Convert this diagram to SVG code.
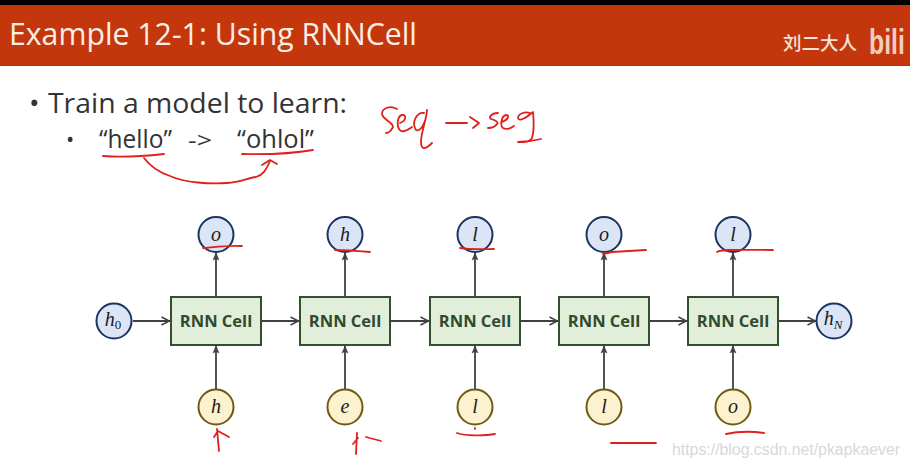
<svg xmlns="http://www.w3.org/2000/svg" width="910" height="467" viewBox="0 0 910 467">
<defs>
<marker id="arr" viewBox="0 0 10 10" refX="9.5" refY="5" markerWidth="10" markerHeight="10" markerUnits="userSpaceOnUse" orient="auto"><path d="M1 1L9 5L1 9" fill="none" stroke="#404040" stroke-width="1.5"/></marker>
<marker id="arrv" viewBox="0 0 8 8" refX="7.500" refY="4" markerWidth="8" markerHeight="8" markerUnits="userSpaceOnUse" orient="auto"><path d="M0.5 1L7.500 4L0.5 7L2 4Z" fill="#404040" stroke="#404040" stroke-width="0.5"/></marker>
</defs>
<style>
.cell{fill:#e0eeda;stroke:#324f2e;stroke-width:2}
.celltxt{font:700 16.500px "Open Sans","Noto Sans",sans-serif;fill:#2f4a2c;text-anchor:middle}
.blue{fill:#dbe5f5;stroke:#1c3462;stroke-width:2}
.yel{fill:#fdf2cf;stroke:#6f5a14;stroke-width:2}
.math{font:italic 20px "Liberation Serif",serif;fill:#1a1a1a;text-anchor:middle}
.sub{font:italic 13px "Liberation Serif",serif;fill:#1a1a1a}
.conn{stroke:#404040;stroke-width:1.8;fill:none;marker-end:url(#arr)}
.connv{stroke:#404040;stroke-width:1.8;fill:none;marker-end:url(#arrv)}
.ink{stroke:#e0201c;stroke-width:1.8;fill:none;stroke-linecap:round;stroke-linejoin:round}
.body{font-family:"Open Sans","Noto Sans",sans-serif;fill:#333}
</style>
<rect width="910" height="467" fill="#fff"/>
<g id="header">
<rect width="910" height="5" fill="#000"/>
<rect y="5" width="910" height="60" fill="#c4370c"/>
<rect y="65" width="910" height="1" fill="#a8300c"/>
<text x="9" y="45" font-family="Open Sans,Noto Sans,sans-serif" font-size="31" fill="#fbeee6" textLength="408" lengthAdjust="spacingAndGlyphs">Example 12-1: Using RNNCell</text>
<text x="783" y="50" font-family="Noto Sans CJK SC,sans-serif" font-size="18.500" font-weight="500" fill="#f5e2d8">刘二大人</text>
<text transform="translate(869 54) scale(0.8 1.15)" font-family="Liberation Sans,sans-serif" font-size="31" font-weight="700" fill="#f0cdbf">bili</text>
</g>
<g id="bullets" class="body">
<text x="29" y="113" font-size="28">•</text>
<text x="48" y="113" font-size="28" textLength="299" lengthAdjust="spacingAndGlyphs">Train a model to learn:</text>
<text x="66" y="147" font-size="22">•</text>
<text x="99" y="148" font-size="25.500" textLength="73" lengthAdjust="spacingAndGlyphs">“hello”</text>
<text x="188" y="148" font-size="22" textLength="24" lengthAdjust="spacingAndGlyphs">-&gt;</text>
<text x="237" y="148" font-size="25.500" textLength="77" lengthAdjust="spacingAndGlyphs">“ohlol”</text>
</g>
<g id="connectors">
<path class="conn" d="M133 321H170"/>
<path class="conn" d="M262 321H299"/>
<path class="conn" d="M391 321H429"/>
<path class="conn" d="M521 321H558"/>
<path class="conn" d="M650 321H687"/>
<path class="conn" d="M779 321H816"/>
<path class="connv" d="M216 296V253"/>
<path class="connv" d="M345 296V253"/>
<path class="connv" d="M475 296V253"/>
<path class="connv" d="M604 296V253"/>
<path class="connv" d="M733 296V253"/>
<path class="connv" d="M216 389V346"/>
<path class="connv" d="M345 389V346"/>
<path class="connv" d="M475 389V346"/>
<path class="connv" d="M604 389V346"/>
<path class="connv" d="M733 389V346"/>
</g>
<g id="cell1"><rect class="cell" x="171" y="297" width="90" height="48"/><text class="celltxt" x="216" y="327">RNN Cell</text></g>
<g id="cell2"><rect class="cell" x="300" y="297" width="90" height="48"/><text class="celltxt" x="345" y="327">RNN Cell</text></g>
<g id="cell3"><rect class="cell" x="430" y="297" width="90" height="48"/><text class="celltxt" x="475" y="327">RNN Cell</text></g>
<g id="cell4"><rect class="cell" x="559" y="297" width="90" height="48"/><text class="celltxt" x="604" y="327">RNN Cell</text></g>
<g id="cell5"><rect class="cell" x="688" y="297" width="90" height="48"/><text class="celltxt" x="733" y="327">RNN Cell</text></g>
<g id="h0"><circle class="blue" cx="114" cy="321" r="17.5"/><text class="math" x="113" y="326">h<tspan class="sub" dy="3" style="font-style:normal">0</tspan></text></g>
<g id="hN"><circle class="blue" cx="834" cy="321" r="17.5"/><text class="math" x="833" y="325">h<tspan class="sub" dy="4">N</tspan></text></g>
<g id="out1"><circle class="blue" cx="216" cy="234.500" r="17.5"/><text class="math" x="216" y="241">o</text></g>
<g id="out2"><circle class="blue" cx="345" cy="234.500" r="17.5"/><text class="math" x="345" y="241">h</text></g>
<g id="out3"><circle class="blue" cx="475" cy="234.500" r="17.5"/><text class="math" x="475" y="241">l</text></g>
<g id="out4"><circle class="blue" cx="604" cy="234.500" r="17.5"/><text class="math" x="604" y="241">o</text></g>
<g id="out5"><circle class="blue" cx="733" cy="234.500" r="17.5"/><text class="math" x="733" y="241">l</text></g>
<g id="in1"><circle class="yel" cx="216" cy="407" r="17.5"/><text class="math" x="216" y="413">h</text></g>
<g id="in2"><circle class="yel" cx="345" cy="407" r="17.5"/><text class="math" x="345" y="413">e</text></g>
<g id="in3"><circle class="yel" cx="475" cy="407" r="17.5"/><text class="math" x="475" y="413">l</text></g>
<g id="in4"><circle class="yel" cx="604" cy="407" r="17.5"/><text class="math" x="604" y="413">l</text></g>
<g id="in5"><circle class="yel" cx="733" cy="407" r="17.5"/><text class="math" x="733" y="413">o</text></g>
<g id="annotations" class="ink">
<path d="M103 156Q127 158 164 154"/>
<path d="M242 154Q285 155 313 150"/>
<path d="M144 158C150 166 158 172 170 176C185 183 210 184 227 183C240 182 248 178 256 177C263 175 266 170 270 161"/>
<path d="M262 165L270 160L277 164"/>
<path d="M397 109C390 105 382 108 382 114C383 120 393 122 393 127C391 131 388 133 386 133"/>
<path d="M400 123C406 121 407 114 402 115C397 116 396 128 401 131C404 132 408 130 412 127"/>
<path d="M424 113C417 112 411 122 416 130C420 132 426 124 427 110C426 122 421 132 421 142C421 150 425 150 432 143"/>
<path d="M446 123L467 123M470 117L479 123L473 128"/>
<path d="M498 113C492 113 488 117 491 119C495 120 499 122 497 124C495 127 491 128 488 128"/>
<path d="M502 122C508 120 510 115 506 115C501 116 500 126 503 128C506 130 511 128 514 126"/>
<path d="M530 113C525 111 518 114 518 118C519 122 526 118 533 112C534 122 534 132 532 138C530 142 526 142 518 142C525 142 533 141 541 139"/>
<path d="M203 248C215 247 230 245 242 246"/>
<path d="M335 250C345 250 358 251 370 252"/>
<path d="M460 248C472 250 485 249 494 249"/>
<path d="M603 254L612 252L646 250"/>
<path d="M717 252C722 249 740 250 773 250"/>
<path d="M217 429L219 451M214 437L218 431L229 437"/>
<path d="M357 433L356 454M353 444L358 438M366 437L381 441"/>
<path d="M457 433C465 436 485 436 495 434M475 428V429"/>
<path d="M611 443L656 443"/>
<path d="M726 434C735 432 750 431 764 433"/>
</g>
<text id="watermark" x="672" y="455" font-family="Liberation Sans,sans-serif" font-size="15.800" fill="#d8d8d8" textLength="228" lengthAdjust="spacingAndGlyphs">https://blog.csdn.net/pkapkaever</text>
</svg>
